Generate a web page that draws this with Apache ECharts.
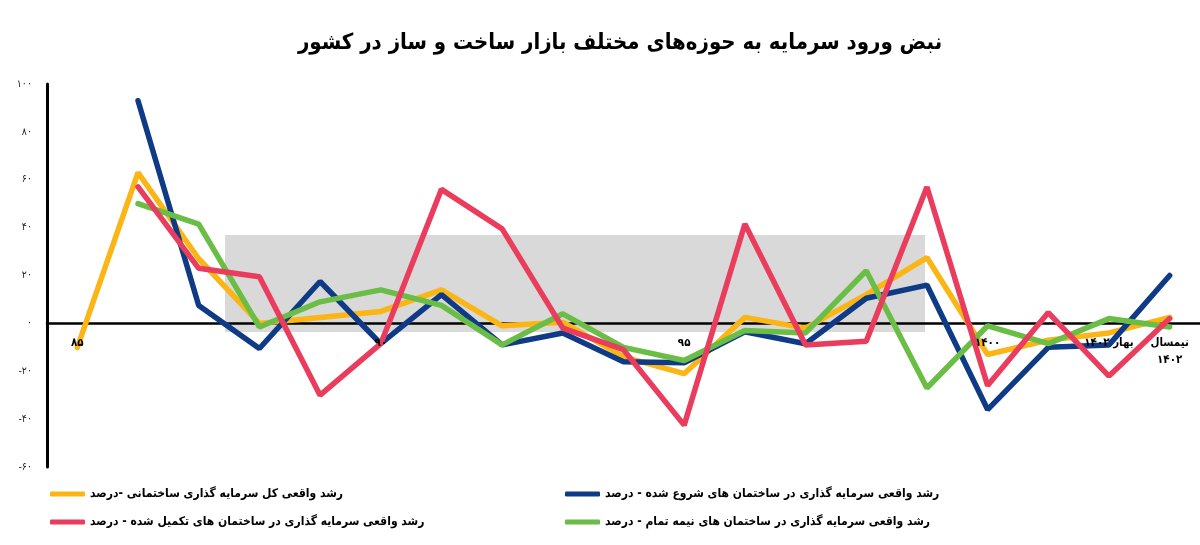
<!DOCTYPE html>
<html>
<head>
<meta charset="utf-8">
<script src="https://cdn.jsdelivr.net/npm/echarts@6/dist/echarts.min.js"></script>
<style>
html,body{margin:0;padding:0;background:#fff;}
#chart{width:1200px;height:545px;}
</style>
</head>
<body>
<div id="chart"></div>
<script>
var categories = ['۸۵','۸۶','۸۷','۸۸','۸۹','۹۰','۹۱','۹۲','۹۳','۹۴','۹۵','۹۶','۹۷','۹۸','۹۹','۱۴۰۰','۱۴۰۱','بهار ۱۴۰۲','نیمسال\n۱۴۰۲'];
var shownLabels = ['۸۵','۹۰','۹۵','۱۴۰۰','بهار ۱۴۰۲','نیمسال\n۱۴۰۲'];
var seriesNames = [
  'رشد واقعی کل سرمایه گذاری ساختمانی -درصد',
  'رشد واقعی سرمایه گذاری در ساختمان های شروع شده - درصد',
  'رشد واقعی سرمایه گذاری در ساختمان های تکمیل شده - درصد',
  'رشد واقعی سرمایه گذاری در ساختمان های نیمه تمام - درصد'
];
var totalGrowth     = [-10, 63, 27, 0, 2.5, 5, 14, -1, 0.5, -14, -21, 2.5, -2, 12, 27.5, -13, -7, -4, 2.5];
var startedGrowth   = [null, 93, 7.5, -10.5, 17.5, -8.5, 12, -9, -4, -16, -16.5, -3.5, -8.5, 10.5, 16, -36, -10, -9, 20];
var completedGrowth = [null, 57, 23, 19.5, -30, -8.5, 56, 39.5, -2, -11, -42.5, 41.5, -9, -7.5, 57, -26, 4.5, -22, 2];
var unfinishedGrowth= [null, 50, 41.5, -1.5, 9, 14, 7.5, -9, 4, -10, -15.5, -3, -4, 22, -27, -1, -8.5, 2, -1.5];
var yTicks = [-60, -40, -20, 0, 20, 40, 60, 80, 100];

var colors = ['#FBB515', '#0F3B86', '#EA3D5E', '#6ABD45'];

function toFa(n){
  var d = '۰۱۲۳۴۵۶۷۸۹';
  var s = String(Math.abs(n)).replace(/[0-9]/g, function(c){return d[+c];});
  return (n < 0 ? '-' : '') + s;
}

var chart = echarts.init(document.getElementById('chart'));
var font = 'DejaVu Sans Condensed, DejaVu Sans';
var dataArr = [totalGrowth, startedGrowth, completedGrowth, unfinishedGrowth];
var order = [0, 1, 3, 2];
var series = order.map(function(i){
  return {
    name: seriesNames[i],
    type: 'line',
    data: dataArr[i],
    xAxisIndex: 0,
    symbol: 'none',
    smooth: false,
    connectNulls: false,
    lineStyle: {color: colors[i], width: 5.5, cap: 'round'},
    itemStyle: {color: colors[i]},
    z: 3
  };
});
var legendPos = [[50, 488], [565, 488], [50, 516], [565, 516]];
var legends = legendPos.map(function(p, i){
  return {
    data: [seriesNames[i]],
    left: p[0], top: p[1],
    padding: 0,
    icon: 'roundRect',
    itemWidth: 35, itemHeight: 5,
    itemGap: 4,
    textStyle: {fontFamily: font, fontSize: 12, fontWeight: 'bold', color: '#000'}
  };
});

var xLabelStyle = {
  interval: 0,
  margin: 11,
  fontFamily: font, fontSize: 11.5, fontWeight: 'bold', color: '#000', lineHeight: 17,
  formatter: function(v){ return shownLabels.indexOf(v) >= 0 ? v : ''; }
};

chart.setOption({
  animation: false,
  backgroundColor: '#fff',
  title: {
    text: 'نبض ورود سرمایه به حوزه‌های مختلف بازار ساخت و ساز در کشور',
    left: 615, top: 27, textAlign: 'center',
    textStyle: {fontFamily: font, fontSize: 22, fontWeight: 'bold', color: '#000'}
  },
  legend: legends,
  graphic: [{
    type: 'rect', z: -10,
    shape: {x: 225, y: 235, width: 700, height: 97},
    style: {fill: '#d9d9d9'}
  }],
  grid: {left: 47, right: -2, top: 84, bottom: 78},
  xAxis: [{
    type: 'category',
    data: categories,
    boundaryGap: true,
    offset: -143.6,
    axisLine: {onZero: false, lineStyle: {color: '#000', width: 2.5}},
    axisTick: {show: false},
    axisLabel: {show: false},
    splitLine: {show: false}
  }, {
    type: 'category',
    data: categories,
    position: 'bottom',
    boundaryGap: true,
    offset: -143.6,
    zlevel: 1,
    z: 10,
    axisLine: {show: false, onZero: false},
    axisTick: {show: false},
    axisLabel: xLabelStyle,
    splitLine: {show: false}
  }],
  yAxis: {
    type: 'value',
    min: -60, max: 100, interval: 20,
    axisLine: {show: true, lineStyle: {color: '#000', width: 3}},
    axisTick: {show: false},
    splitLine: {show: false},
    axisLabel: {
      margin: 15,
      fontFamily: font, fontSize: 10.5, color: '#222',
      formatter: function(v){ return yTicks.indexOf(v) >= 0 ? toFa(v) : ''; }
    }
  },
  series: series
});
</script>
</body>
</html>
